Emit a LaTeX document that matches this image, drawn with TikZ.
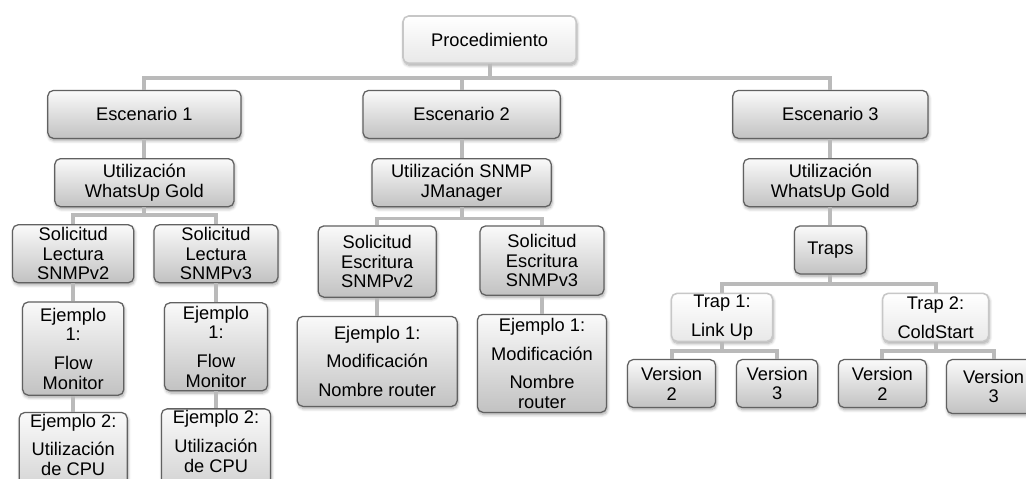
\documentclass[tikz,border=0pt]{standalone}
\usepackage{fontspec}
\setmainfont{Liberation Sans}
\usetikzlibrary{positioning, shadows.blur}

\begin{document}
\begin{tikzpicture}[
  font=\fontsize{13}{14}\selectfont,
  basebox/.style={rectangle, rounded corners=4pt, align=center, inner sep=1pt,
    blur shadow={shadow blur steps=6, shadow xshift=0.6pt, shadow yshift=-1.6pt, shadow opacity=35}},
  darkbox/.style={basebox, draw=black!62, line width=0.9pt, top color=black!2, bottom color=black!24},
  lightbox/.style={basebox, draw=black!22, line width=1.1pt, top color=white, bottom color=black!9},
  link/.style={draw=black!27, line width=2.8pt},
  node distance=0.475cm
]
\useasboundingbox (0,0) rectangle (25.65,-11.975);

% 根节点
\node (proc) [lightbox, minimum width=4.33cm, minimum height=1.18cm] at (12.24,-0.99) {Procedimiento};

% 场景
\node (esc1) [darkbox, minimum width=4.83cm, minimum height=1.2cm, below=0.645cm of proc, xshift=-8.63cm] {Escenario 1};
\node (esc2) [darkbox, minimum width=4.93cm, minimum height=1.2cm, below=0.645cm of proc, xshift=-0.70cm] {Escenario 2};
\node (esc3) [darkbox, minimum width=4.88cm, minimum height=1.2cm, below=0.645cm of proc, xshift=8.52cm] {Escenario 3};

% 工具
\node (util1) [darkbox, minimum width=4.48cm, minimum height=1.2cm, below=of esc1] {Utilización\\WhatsUp Gold};
\node (util2) [darkbox, minimum width=4.48cm, minimum height=1.2cm, below=of esc2] {Utilización SNMP\\JManager};
\node (util3) [darkbox, minimum width=4.35cm, minimum height=1.2cm, below=of esc3] {Utilización\\WhatsUp Gold};

% 场景 1
\node (solL2) [darkbox, minimum width=3.03cm, minimum height=1.45cm, below=0.42cm of util1, xshift=-1.78cm] {Solicitud\\Lectura\\SNMPv2};
\node (solL3) [darkbox, minimum width=3.1cm, minimum height=1.45cm, below=0.42cm of util1, xshift=1.79cm] {Solicitud\\Lectura\\SNMPv3};
\node (ej1a) [darkbox, minimum width=2.53cm, minimum height=2.33cm, below=0.45cm of solL2] {Ejemplo\\1:\\[6.5pt]Flow\\Monitor};
\node (ej1b) [darkbox, minimum width=2.58cm, minimum height=2.2cm, below=0.47cm of solL3] {Ejemplo\\1:\\[6.5pt]Flow\\Monitor};
\node (ej2a) [darkbox, minimum width=2.7cm, minimum height=2.75cm, below=0.4cm of ej1a] {Ejemplo 2:\\[6.5pt]Utilización\\de CPU\\[16pt]\strut};
\node (ej2b) [darkbox, minimum width=2.73cm, minimum height=2.75cm, below=0.42cm of ej1b] {Ejemplo 2:\\[6.5pt]Utilización\\de CPU\\[16pt]\strut};

% 场景 2
\node (solE2) [darkbox, minimum width=2.95cm, minimum height=1.78cm, below=0.45cm of util2, xshift=-2.11cm] {Solicitud\\Escritura\\SNMPv2};
\node (solE3) [darkbox, minimum width=3.1cm, minimum height=1.73cm, below=0.45cm of util2, xshift=2.01cm] {Solicitud\\Escritura\\SNMPv3};
\node (modA) [darkbox, minimum width=4.0cm, minimum height=2.25cm, below=0.45cm of solE2] {Ejemplo 1:\\[6.5pt]Modificación\\[6.5pt]Nombre router};
\node (modB) [darkbox, minimum width=3.23cm, minimum height=2.45cm, below=0.45cm of solE3] {Ejemplo 1:\\[6.5pt]Modificación\\[6.5pt]Nombre\\router};

% 场景 3
\node (traps) [darkbox, minimum width=1.8cm, minimum height=1.2cm, below=0.45cm of util3] {Traps};
\node (trap1) [lightbox, minimum width=2.53cm, minimum height=1.2cm, below=0.45cm of traps, xshift=-2.71cm] {Trap 1:\\[6.5pt]Link Up};
\node (trap2) [lightbox, minimum width=2.65cm, minimum height=1.2cm, below=0.45cm of traps, xshift=2.63cm] {Trap 2:\\[6.5pt]ColdStart};
\node (v2a) [darkbox, minimum width=2.2cm, minimum height=1.2cm, below=0.42cm of trap1, xshift=-1.26cm] {Version\\2};
\node (v3a) [darkbox, minimum width=2.03cm, minimum height=1.2cm, below=0.42cm of trap1, xshift=1.38cm] {Version\\3};
\node (v2b) [darkbox, minimum width=2.2cm, minimum height=1.2cm, below=0.42cm of trap2, xshift=-1.33cm] {Version\\2};
\node (v3b) [darkbox, minimum width=2.35cm, minimum height=1.35cm, below=0.42cm of trap2, xshift=1.45cm] {Version\\3};

% 连线
\draw [link] (proc.south) -- ++(0,-0.35) -| (esc1.north);
\draw [link] (proc.south) -- ++(0,-0.35) -| (esc2.north);
\draw [link] (proc.south) -- ++(0,-0.35) -| (esc3.north);
\draw [link] (esc1) -- (util1);
\draw [link] (esc2) -- (util2);
\draw [link] (esc3) -- (util3);
\draw [link] (util1.south) -- ++(0,-0.2) -| (solL2.north);
\draw [link] (util1.south) -- ++(0,-0.2) -| (solL3.north);
\draw [link] (solL2) -- (ej1a);
\draw [link] (ej1a) -- (ej2a);
\draw [link] (solL3) -- (ej1b);
\draw [link] (ej1b) -- (ej2b);
\draw [link] (util2.south) -- ++(0,-0.28) -| (solE2.north);
\draw [link] (util2.south) -- ++(0,-0.28) -| (solE3.north);
\draw [link] (solE2) -- (modA);
\draw [link] (solE3) -- (modB);
\draw [link] (util3) -- (traps);
\draw [link] (traps.south) -- ++(0,-0.225) -| (trap1.north);
\draw [link] (traps.south) -- ++(0,-0.225) -| (trap2.north);
\draw [link] (trap1.south) -- ++(0,-0.225) -| (v2a.north);
\draw [link] (trap1.south) -- ++(0,-0.225) -| (v3a.north);
\draw [link] (trap2.south) -- ++(0,-0.225) -| (v2b.north);
\draw [link] (trap2.south) -- ++(0,-0.225) -| (v3b.north);

\end{tikzpicture}
\end{document}
